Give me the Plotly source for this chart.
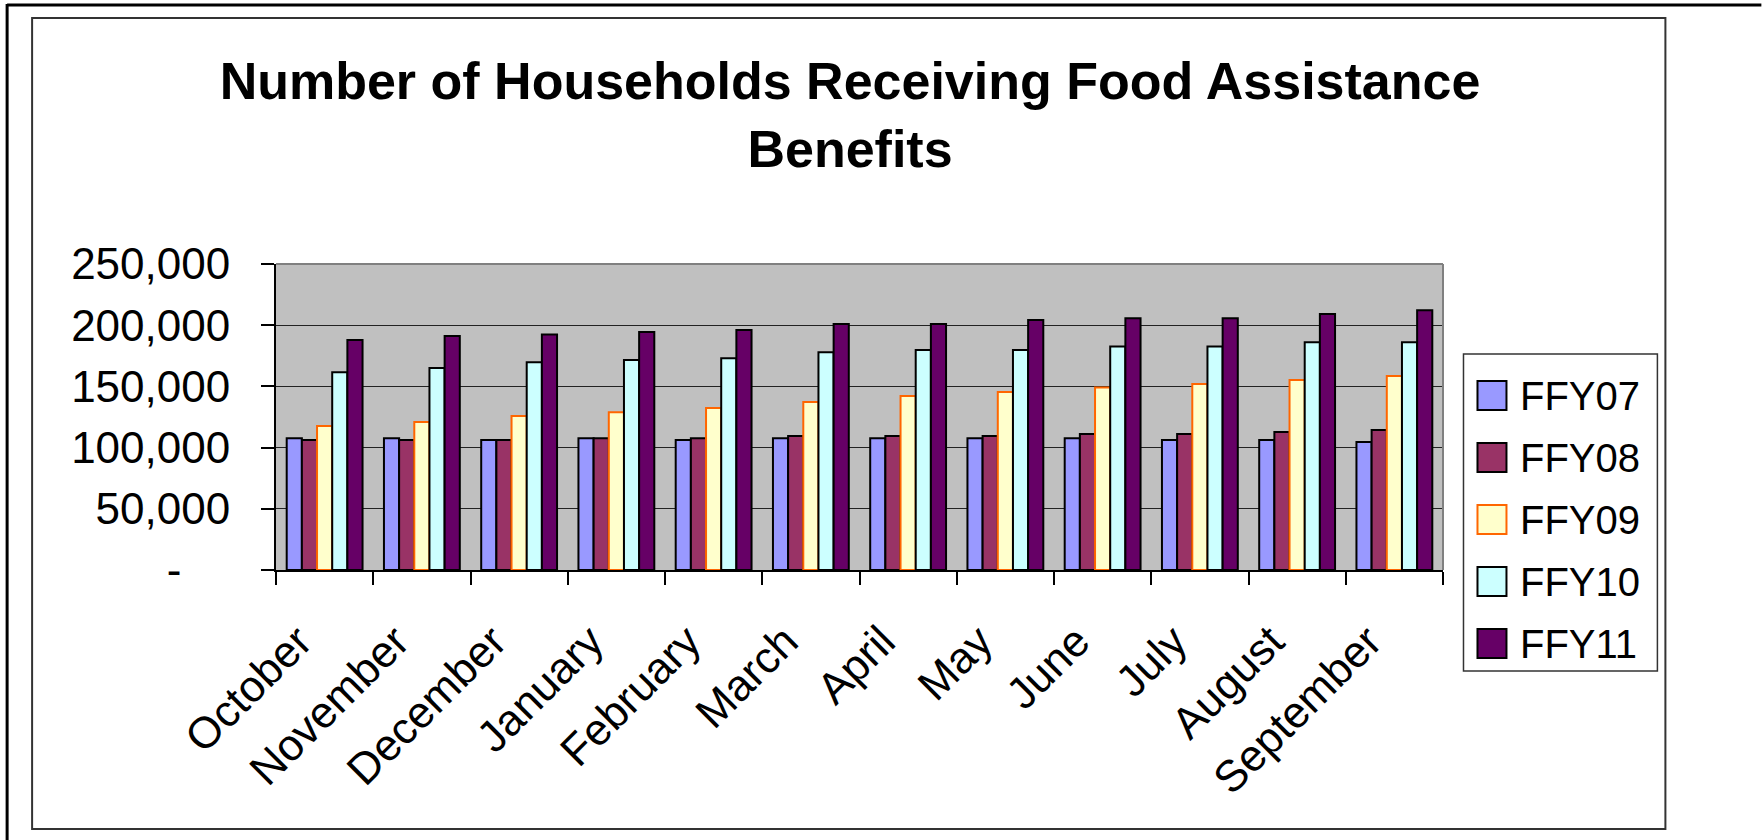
import plotly.graph_objects as go

# Months of the federal fiscal year
months = ["October", "November", "December", "January", "February", "March",
          "April", "May", "June", "July", "August", "September"]

# Households receiving benefits, by fiscal year
ffy07 = [107600, 107600, 106200, 107600, 106200, 107600, 107600, 107600, 107600, 106200, 106200, 104600]
ffy08 = [106200, 106200, 106200, 107600, 107600, 109500, 109500, 109500, 111100, 111100, 112700, 114400]
ffy09 = [117600, 120900, 125800, 128800, 132400, 137300, 142200, 145400, 149000, 152000, 155200, 158500]
ffy10 = [161500, 165000, 169700, 171600, 172900, 177800, 179700, 179700, 182700, 182700, 186000, 186000]
ffy11 = [187900, 191200, 192500, 194400, 196100, 201000, 201000, 204200, 205600, 205600, 209200, 212200]

series_names = ["FFY07", "FFY08", "FFY09", "FFY10", "FFY11"]
series_values = [ffy07, ffy08, ffy09, ffy10, ffy11]
fill_colors = ["#9999FF", "#993366", "#FFFFCC", "#CCFFFF", "#660066"]
edge_colors = ["#000000", "#000000", "#FF6600", "#000000", "#000000"]

y_ticks = [0, 50000, 100000, 150000, 200000, 250000]
y_tick_text = ["-\u00a0\u00a0\u00a0\u00a0", "50,000", "100,000", "150,000", "200,000", "250,000"]

FONT = "Liberation Sans, Arial, sans-serif"
WIDTH, HEIGHT = 1762, 840
# plot-area edges in pixels
L, R, T, B = 276, 1443.5, 264, 570
PW, PH = R - L, B - T


def xp(px):
    return (px - L) / PW


def yp(py):
    return (B - py) / PH


fig = go.Figure()
for name, vals, fc, ec in zip(series_names, series_values, fill_colors, edge_colors):
    fig.add_trace(go.Bar(
        name=name, x=months, y=vals,
        marker=dict(color=fc, line=dict(color=ec, width=2)),
        showlegend=False,
    ))

shapes = [
    # outer frame lines
    dict(type="line", xref="paper", yref="paper", x0=xp(7), x1=xp(WIDTH), y0=yp(5), y1=yp(5),
         line=dict(color="black", width=3)),
    dict(type="line", xref="paper", yref="paper", x0=xp(7), x1=xp(7), y0=yp(4), y1=yp(HEIGHT),
         line=dict(color="black", width=3)),
    # chart area frame
    dict(type="rect", xref="paper", yref="paper", x0=xp(32), x1=xp(1666), y0=yp(18), y1=yp(829),
         line=dict(color="#333333", width=2), layer="below"),
    # plot area top and right borders
    dict(type="line", xref="paper", yref="paper", x0=0, x1=1, y0=1, y1=1,
         line=dict(color="#808080", width=2), layer="above"),
    dict(type="line", xref="paper", yref="paper", x0=1, x1=1, y0=0, y1=1,
         line=dict(color="#808080", width=2), layer="above"),
    # legend box
    dict(type="rect", xref="paper", yref="paper", x0=xp(1464), x1=xp(1658), y0=yp(354), y1=yp(671),
         line=dict(color="#333333", width=1.5), fillcolor="white", layer="above"),
]

annotations = []
legend_top, legend_step = 395.5, 62
for i, (name, fc, ec) in enumerate(zip(series_names, fill_colors, edge_colors)):
    cy = legend_top + i * legend_step
    shapes.append(dict(type="rect", xref="paper", yref="paper",
                       x0=xp(1478), x1=xp(1507), y0=yp(cy - 14.5), y1=yp(cy + 14.5),
                       line=dict(color=ec, width=2), fillcolor=fc, layer="above"))
    annotations.append(dict(xref="paper", yref="paper", x=xp(1519), y=yp(cy),
                            xanchor="left", yanchor="middle", text=name, showarrow=False,
                            font=dict(family=FONT, size=40, color="black")))

fig.update_layout(
    width=WIDTH, height=HEIGHT,
    margin=dict(l=L, r=WIDTH - R, t=T, b=HEIGHT - B, pad=0),
    paper_bgcolor="white", plot_bgcolor="#C0C0C0",
    barmode="group", bargap=0.22, bargroupgap=0,
    font=dict(family=FONT, color="black"),
    title=dict(text="<b>Number of Households Receiving Food Assistance<br>Benefits</b>",
               xref="container", yref="container", x=850 / WIDTH, y=1 - 99 / HEIGHT,
               xanchor="center", yanchor="middle",
               font=dict(family=FONT, size=52, color="black")),
    shapes=shapes, annotations=annotations,
    xaxis=dict(
        tickangle=-45, tickson="boundaries", ticks="outside", ticklen=13, tickwidth=1.5,
        tickcolor="black", showline=True, linecolor="black", linewidth=2,
        ticksuffix="\u00a0\u00a0\u00a0",
        showgrid=False, tickfont=dict(family=FONT, size=44, color="black"),
    ),
    yaxis=dict(
        range=[0, 250000], tickvals=y_ticks, ticktext=y_tick_text,
        ticks="outside", ticklen=13, tickwidth=1.5, tickcolor="black",
        showline=True, linecolor="black", linewidth=2,
        showgrid=True, gridcolor="#222222", gridwidth=1.2, zeroline=False,
        tickfont=dict(family=FONT, size=44, color="black"), ticklabelstandoff=22,
    ),
)

fig.write_html("out.html")
